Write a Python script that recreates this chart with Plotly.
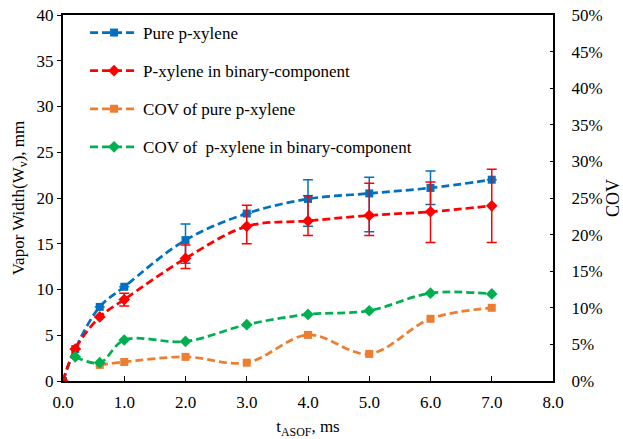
import plotly.graph_objects as go

# ---- data ----
t_vals = [0, 0.2, 0.6, 1.0, 2.0, 3.0, 4.0, 5.0, 6.0, 7.0]
pure_width = [0, 3.5, 8.1, 10.3, 15.4, 18.3, 19.9, 20.5, 21.1, 22.0]
pure_err_plus = [0, 0, 0, 0, 1.76, 0, 2.1, 1.76, 1.85, 0]
pure_err_minus = [0, 0, 0, 0, 2.54, 0, 3.0, 4.2, 1.8, 0]

binary_width = [0, 3.5, 7.0, 8.9, 13.4, 16.9, 17.5, 18.1, 18.5, 19.15]
binary_err_plus = [0, 0, 0, 0.7, 1.45, 2.3, 2.75, 3.5, 3.25, 4.0]
binary_err_minus = [0, 0, 0, 0.7, 1.1, 1.9, 1.6, 2.2, 3.35, 4.0]

cov_pure_t = [0.6, 1.0, 2.0, 3.0, 4.0, 5.0, 6.0, 7.0]
cov_pure = [0.022, 0.026, 0.033, 0.025, 0.063, 0.037, 0.085, 0.100]

cov_bin_t = [0.2, 0.6, 1.0, 2.0, 3.0, 4.0, 5.0, 6.0, 7.0]
cov_bin = [0.033, 0.025, 0.056, 0.054, 0.077, 0.091, 0.096, 0.120, 0.119]

names = ["Pure p-xylene", "P-xylene in binary-component",
         "COV of pure p-xylene", "COV of  p-xylene in binary-component"]

BLUE = "#0070C0"
RED = "#FF0000"
ORANGE = "#ED7D31"
GREEN = "#00B050"
FONT = "Liberation Serif"
DASH = "8px,4px"
LW = 2.75

fig = go.Figure()

fig.add_trace(go.Scatter(
    x=t_vals, y=pure_width, name=names[0], legendgroup="a",
    mode="lines+markers",
    line=dict(color=BLUE, width=LW, dash=DASH, shape="spline", smoothing=1),
    marker=dict(symbol="square", size=8, color=BLUE),
    error_y=dict(type="data", symmetric=False, array=pure_err_plus,
                 arrayminus=pure_err_minus, color=BLUE, thickness=1.5, width=5),
))
fig.add_trace(go.Scatter(
    x=t_vals, y=binary_width, name=names[1], legendgroup="b",
    mode="lines+markers",
    line=dict(color=RED, width=LW, dash=DASH, shape="spline", smoothing=1),
    marker=dict(symbol="diamond", size=9, color=RED),
    error_y=dict(type="data", symmetric=False, array=binary_err_plus,
                 arrayminus=binary_err_minus, color=RED, thickness=1.5, width=5),
))
fig.add_trace(go.Scatter(
    x=cov_pure_t, y=cov_pure, name=names[2], legendgroup="c", yaxis="y2",
    mode="lines+markers",
    line=dict(color=ORANGE, width=LW, dash=DASH, shape="spline", smoothing=1),
    marker=dict(symbol="square", size=8, color=ORANGE),
))
fig.add_trace(go.Scatter(
    x=cov_bin_t, y=cov_bin, name=names[3], legendgroup="d", yaxis="y2",
    mode="lines+markers",
    line=dict(color=GREEN, width=LW, dash=DASH, shape="spline", smoothing=1),
    marker=dict(symbol="diamond", size=9, color=GREEN),
))

fig.update_layout(
    width=623, height=439,
    margin=dict(l=63, r=70, t=15, b=58, autoexpand=False),
    paper_bgcolor="white", plot_bgcolor="white",
    font=dict(family=FONT, size=17, color="#000"),
    legend=dict(x=0.045, y=1.0, xanchor="left", yanchor="top",
                bgcolor="rgba(0,0,0,0)", font=dict(size=17, family=FONT),
                tracegroupgap=13, traceorder="grouped", itemwidth=48),
    xaxis=dict(range=[0, 8], dtick=1, tick0=0, tickformat=".1f", automargin=False,
               showline=True, linecolor="#000", linewidth=2, mirror=True,
               ticks="inside", ticklen=5, tickcolor="#000", showgrid=False,
               zeroline=False, tickfont=dict(size=17), ticklabelstandoff=5,
               title=dict(text="t<sub>ASOF</sub>, ms", font=dict(size=17), standoff=9)),
    yaxis=dict(range=[0, 40], dtick=5, showline=True, linecolor="#000", linewidth=2,
               automargin=False,
               ticks="outside", ticklen=4, tickcolor="#000", showgrid=False,
               zeroline=False, tickfont=dict(size=17),
               title=dict(text="Vapor Width(W<sub>v</sub>), mm", font=dict(size=17), standoff=8)),
    yaxis2=dict(range=[0, 0.5], dtick=0.05, tickformat=".0%", overlaying="y", side="right",
                showline=True, linecolor="#000", linewidth=2, automargin=False,
                ticks="inside", ticklen=3, tickcolor="#000", showgrid=False,
                zeroline=False, tickfont=dict(size=17), ticklabelstandoff=13,
                title=dict(text="COV", font=dict(size=18), standoff=10)),
)

fig.write_html("out.html")
